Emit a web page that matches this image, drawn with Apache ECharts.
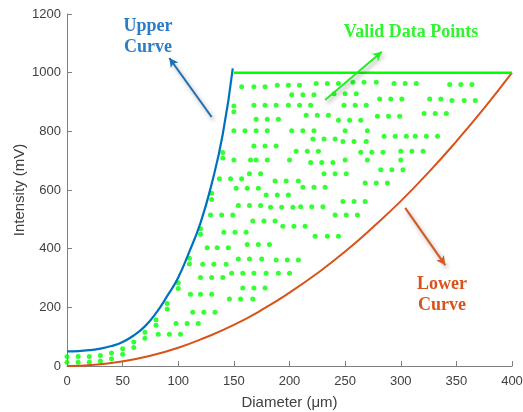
<!DOCTYPE html>
<html>
<head>
    <meta http-equiv="Content-Type" content="text/html; charset=utf-8"/>
    <title>Valid data region</title>
    <style>
        html, body { margin: 0; padding: 0; background: #fff; }
        #main { width: 523px; height: 412px; }
    </style>
    <script src="https://cdn.jsdelivr.net/npm/echarts@6.0.0/dist/echarts.min.js"></script>
</head>
<body>
<div id="main"></div>
<script type="text/javascript">
    // upper limit curve (blue)
    var upperX = [0, 10, 20, 30, 40, 50, 60, 70, 80, 90, 100, 110, 120, 130, 140, 149];
    var upperY = [50, 51, 54, 59, 68, 82, 104, 135, 180, 238, 302, 390, 488, 620, 790, 1015];

    // lower limit curve (orange)
    var lowerX = [0, 25, 50, 75, 100, 125, 150, 175, 200, 225, 250, 275, 300, 325, 350, 375, 400];
    var lowerY = [0, 4, 16, 35, 62, 98, 140, 191, 250, 316, 390, 473, 562, 660, 766, 879, 1000];

    // top cap (green)
    var capX = [150, 400];
    var capY = [1000, 1000];

    var xTicks = [0, 50, 100, 150, 200, 250, 300, 350, 400];
    var yTicks = [0, 200, 400, 600, 800, 1000, 1200];

    // valid data points [diameter, intensity]
    var validPoints = [
        [0,32],[0,13],[10,32],[10,13],[20,32],[20,13],[30,36],[30,17],[40,44],[40,25],
        [50,59],[50,40],[60,82],[60,63],[70,115],[70,95],[80,158],[80,139],[90,213],[90,194],
        [100,284],[100,264],[110,367],[110,348],[120,468],[120,449],[130,589],[130,568],
        [140,728],[140,709],[150,886],[150,867],
        [82,108],[92,108],[102,108],
        [98,145],[108,145],[118,145],
        [113,183],[123,183],[133,183],
        [146,228],[156,228],[167,228],
        [111,245],[120,245],[130,245],
        [158,266],[168,266],[178,266],
        [120,302],[130,302],[140,302],
        [148,316],[158,316],[168,316],[179,316],[190,316],[200,316],
        [122,347],[132,347],[143,347],
        [154,365],[164,365],[175,365],
        [188,361],[198,361],[208,361],
        [126,403],[135,403],[145,403],
        [162,414],[172,414],[182,414],
        [223,442],[234,442],[244,442],
        [141,456],[151,456],[161,456],
        [194,476],[204,476],[214,476],
        [167,494],[177,494],[187,494],
        [129,515],[139,515],[149,515],[241,515],[251,515],[261,515],
        [183,541],[193,541],[203,541],
        [210,543],[220,543],[230,543],
        [154,547],[164,547],[174,547],
        [248,561],[258,561],[268,561],
        [179,583],[189,583],[199,583],
        [152,606],[162,606],[172,606],
        [212,609],[222,609],[232,609],
        [268,624],[278,624],[288,624],
        [187,631],[197,631],[208,631],
        [137,638],[147,638],[157,638],
        [164,655],[174,655],[231,655],[241,655],[251,655],
        [282,669],[292,669],[302,669],
        [219,694],[229,694],[239,694],
        [150,702],[165,702],[170,702],[180,702],[200,702],[250,702],[270,702],[300,702],
        [264,729],[274,729],[284,729],
        [206,732],[216,732],[226,732],[300,732],[310,732],[320,732],
        [168,750],[178,750],[188,750],
        [248,765],[258,765],[269,765],
        [221,774],[231,774],[241,774],
        [285,783],[295,783],[305,783],[313,783],[323,783],[333,783],
        [150,802],[160,802],[170,802],[180,802],[202,802],[212,802],[222,802],[250,802],[270,802],
        [170,841],[180,841],[190,841],
        [244,838],[254,838],[264,838],
        [279,851],[289,851],[299,851],
        [215,855],[225,855],[235,855],
        [321,861],[331,861],[341,861],
        [168,889],[178,889],[188,889],[199,889],[209,889],[219,889],[249,889],[259,889],[269,889],
        [346,905],[357,905],[367,905],
        [281,910],[291,910],[301,910],[326,910],[336,910],
        [202,925],[212,925],[222,925],
        [240,928],[250,928],[260,928],
        [157,952],[168,952],[178,952],
        [189,957],[199,957],[209,957],
        [224,963],[234,963],[244,963],
        [257,967],[267,967],[278,967],
        [294,963],[304,963],[314,963],
        [344,960],[354,960],[364,960]
    ];

    // annotation arrows, [from, to] in data units
    var upperArrow = [[130, 849], [92, 1050]];
    var validArrow = [[232, 907], [283, 1071]];
    var lowerArrow = [[304, 539], [340, 344]];

    function zip(xs, ys) {
        var out = [];
        for (var i = 0; i < xs.length; i++) out.push([xs[i], ys[i]]);
        return out;
    }

    function arrow(pts, color) {
        return [
            {coord: pts[0], lineStyle: {color: color, width: 2, type: 'solid',
                shadowColor: 'rgba(0,0,0,0.35)', shadowBlur: 4, shadowOffsetX: 2, shadowOffsetY: 3}},
            {coord: pts[1]}
        ];
    }

    var myChart = echarts.init(document.getElementById('main'));

    var axisGrey = '#808080';
    var textGrey = '#404040';

    var option = {
        animation: false,
        backgroundColor: '#ffffff',
        grid: {left: 67, right: 11, top: 14, bottom: 46, containLabel: false, outerBoundsMode: 'none'},
        xAxis: {
            type: 'value',
            min: xTicks[0],
            max: xTicks[xTicks.length - 1],
            interval: 50,
            name: 'Diameter (μm)',
            nameLocation: 'middle',
            nameGap: 29,
            nameMoveOverlap: false,
            nameTextStyle: {fontFamily: 'Liberation Sans', fontSize: 15, color: textGrey},
            axisLine: {show: true, lineStyle: {color: axisGrey, width: 1}},
            axisTick: {show: true, inside: true, length: 5, lineStyle: {color: axisGrey}},
            axisLabel: {fontFamily: 'Liberation Sans', fontSize: 13, color: textGrey, margin: 9,
                formatter: function (v) { return String(v); }},
            splitLine: {show: false}
        },
        yAxis: {
            type: 'value',
            min: yTicks[0],
            max: yTicks[yTicks.length - 1],
            interval: 200,
            name: 'Intensity (mV)',
            nameLocation: 'middle',
            nameGap: 40,
            nameMoveOverlap: false,
            nameTextStyle: {fontFamily: 'Liberation Sans', fontSize: 15, color: textGrey},
            axisLine: {show: true, lineStyle: {color: axisGrey, width: 1}},
            axisTick: {show: true, inside: true, length: 5, lineStyle: {color: axisGrey}},
            axisLabel: {fontFamily: 'Liberation Sans', fontSize: 13, color: textGrey, margin: 6,
                formatter: function (v) { return String(v); }},
            splitLine: {show: false}
        },
        series: [
            {
                name: 'Lower Curve',
                type: 'line',
                smooth: true,
                showSymbol: false,
                lineStyle: {color: '#D95319', width: 2},
                data: zip(lowerX, lowerY)
            },
            {
                name: 'Upper Curve',
                type: 'line',
                smooth: true,
                showSymbol: false,
                lineStyle: {color: '#0072BD', width: 2.2},
                data: zip(upperX, upperY)
            },
            {
                name: 'Cap',
                type: 'line',
                showSymbol: false,
                lineStyle: {color: '#00FF00', width: 2.5},
                data: zip(capX, capY)
            },
            {
                name: 'Valid Data Points',
                type: 'scatter',
                symbol: 'circle',
                symbolSize: 5,
                itemStyle: {color: '#00FF00'},
                data: validPoints
            },
            {
                name: 'arrows',
                type: 'scatter',
                data: [],
                markLine: {
                    silent: true,
                    symbol: ['none', 'arrow'],
                    symbolSize: [7, 9],
                    label: {show: false},
                    data: [
                        arrow(upperArrow, '#1F6FB5'),
                        arrow(validArrow, '#22EE22'),
                        arrow(lowerArrow, '#D4581F')
                    ]
                }
            }
        ],
        graphic: [
            {type: 'text', x: 148, y: 37, z: 100,
                style: {text: 'Upper\nCurve', font: 'bold 18px "Liberation Serif"', fill: '#2B7DC6',
                    align: 'center', verticalAlign: 'middle', lineHeight: 21}},
            {type: 'text', x: 411, y: 32, z: 100,
                style: {text: 'Valid Data Points', font: 'bold 18px "Liberation Serif"', fill: '#2EF52E',
                    align: 'center', verticalAlign: 'middle'}},
            {type: 'text', x: 442, y: 295, z: 100,
                style: {text: 'Lower\nCurve', font: 'bold 18px "Liberation Serif"', fill: '#D9531E',
                    align: 'center', verticalAlign: 'middle', lineHeight: 21}}
        ]
    };
    myChart.setOption(option);
</script>
</body>
</html>
